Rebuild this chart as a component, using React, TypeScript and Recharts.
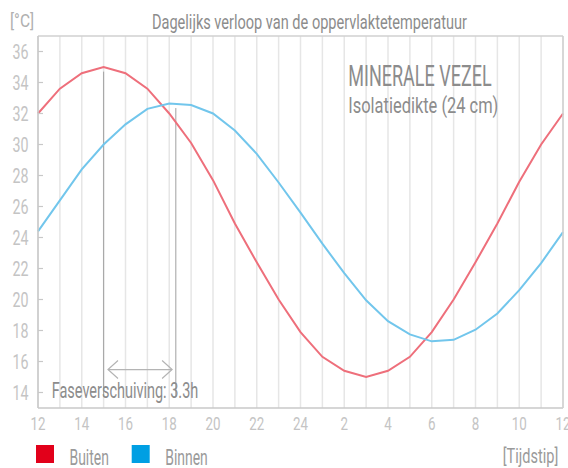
import React from 'react';
import { LineChart, Line, XAxis, YAxis, CartesianGrid, ReferenceLine, Legend } from 'recharts';

if (typeof document !== 'undefined') {
  document.body.style.margin = '0';
}

// ---- data ----
const hours = [0, 1, 2, 3, 4, 5, 6, 7, 8, 9, 10, 11, 12, 13, 14, 15, 16, 17, 18, 19, 20, 21, 22, 23, 24];
const buiten = [32, 33.6, 34.6, 35, 34.6, 33.6, 32, 30.1, 27.7, 24.9, 22.4, 20, 17.9, 16.3, 15.4, 15, 15.4, 16.3, 17.9, 20, 22.4, 24.9, 27.6, 30, 32];
const binnen = [24.4, 26.4, 28.4, 30.0, 31.3, 32.3, 32.65, 32.55, 32.0, 30.9, 29.4, 27.55, 25.6, 23.6, 21.7, 19.95, 18.6, 17.75, 17.3, 17.4, 18.05, 19.1, 20.6, 22.35, 24.35];
const xTickLabels = ['12', '14', '16', '18', '20', '22', '24', '2', '4', '6', '8', '10', '12'];
const yTicks = [14, 16, 18, 20, 22, 24, 26, 28, 30, 32, 34, 36];
const yDomain = [13, 37];
const seriesNames = ['Buiten', 'Binnen'];
const lineColors = ['#ee6f7b', '#72c6ec'];
const legendColors = ['#e2001a', '#009fe3'];
const phaseStart = 3;
const phaseEnd = 6.3;
const phaseLabel = 'Faseverschuiving: 3.3h';

const data = hours.map((h, i) => ({ hour: h, buiten: buiten[i], binnen: binnen[i] }));

const FONT = "Roboto, 'DejaVu Sans', sans-serif";
const TICK_FILL = '#c4c4c4';
const TEXT_FILL = '#8c8c8c';
const AXIS = '#c8c8c8';

const T = ({ x, y, w, size, fill, anchor = 'start', children }: any) => (
  <text
    x={x}
    y={y}
    fontSize={size}
    fill={fill}
    textLength={w}
    lengthAdjust="spacingAndGlyphs"
    textAnchor={anchor}
    fontFamily={FONT}
  >
    {children}
  </text>
);

const YTick = (p: any) => {
  const edge = p.x + 10;
  const y = p.y;
  const label = String(p.payload.value);
  return (
    <g>
      <line x1={edge} x2={edge + 5} y1={y} y2={y} stroke={AXIS} strokeWidth={1.2} />
      <T x={edge - 9.5} y={y + 7} w={label.length * 8} size={19.5} fill={TICK_FILL} anchor="end">
        {label}
      </T>
    </g>
  );
};

const XTick = (p: any) => {
  const v = p.payload.value;
  if (v % 2 !== 0) return <g />;
  const label = xTickLabels[v / 2];
  return (
    <T x={p.x} y={p.y + 12} w={label.length * 7.5} size={19} fill={TICK_FILL} anchor="middle">
      {label}
    </T>
  );
};

const ArrowShape = (p: any) => {
  const { x1, y1, x2, y2 } = p;
  return (
    <g stroke="#b4b4b4" strokeWidth={1.2} fill="none">
      <line x1={x1} y1={y1} x2={x2} y2={y2} />
      <polyline points={`${x1 + 10},${y1 - 9} ${x1},${y1} ${x1 + 10},${y1 + 9}`} />
      <polyline points={`${x2 - 10},${y2 - 9} ${x2},${y2} ${x2 - 10},${y2 + 9}`} />
    </g>
  );
};

const LegendContent = () => {
  const xs = [36, 131.7];
  const tw = [39.4, 42.6];
  return (
    <svg width={300} height={28} style={{ display: 'block', overflow: 'visible' }}>
      {seriesNames.map((name, i) => (
        <g key={name}>
          <rect x={xs[i]} y={5} width={18} height={18} fill={legendColors[i]} />
          <T x={xs[i] + 33.5} y={24.5} w={tw[i]} size={22} fill="#9a9a9a">
            {name}
          </T>
        </g>
      ))}
    </svg>
  );
};

export default function App() {
  return (
    <div style={{ position: 'relative', width: 568, height: 468, background: '#fff' }}>
      <LineChart width={568} height={468} data={data} margin={{ top: 36, right: 5, bottom: 30, left: 0 }}>
        <CartesianGrid horizontal={false} stroke="#e6e6e6" strokeWidth={1.5} />
        <XAxis
          dataKey="hour"
          type="number"
          domain={[0, 24]}
          ticks={hours}
          interval={0}
          height={30}
          tickLine={false}
          tickSize={6}
          tickMargin={4}
          axisLine={{ stroke: AXIS, strokeWidth: 1.5 }}
          tick={<XTick />}
        />
        <YAxis
          type="number"
          domain={yDomain}
          ticks={yTicks}
          interval={0}
          width={38}
          tickLine={false}
          tickSize={6}
          tickMargin={4}
          axisLine={{ stroke: AXIS, strokeWidth: 1.5 }}
          tick={<YTick />}
        />
        <YAxis
          yAxisId="right"
          orientation="right"
          type="number"
          domain={yDomain}
          ticks={yTicks}
          interval={0}
          width={1}
          mirror
          tick={false}
          tickSize={5}
          tickLine={{ stroke: AXIS, strokeWidth: 1.2 }}
          axisLine={{ stroke: '#d0d0d0', strokeWidth: 1.5 }}
        />
        <ReferenceLine y={yDomain[1]} stroke="#d0d0d0" strokeWidth={1.5} />
        <ReferenceLine
          segment={[{ x: phaseStart, y: 34.7 }, { x: phaseStart, y: 13.7 }]}
          stroke="#a0a0a0"
          strokeWidth={1}
        />
        <ReferenceLine
          segment={[{ x: phaseEnd, y: 32.35 }, { x: phaseEnd, y: 13.7 }]}
          stroke="#a0a0a0"
          strokeWidth={1}
        />
        <ReferenceLine
          segment={[{ x: 3.2, y: 15.48 }, { x: 6.13, y: 15.48 }]}
          shape={<ArrowShape />}
        />
        <Line
          dataKey="buiten"
          name={seriesNames[0]}
          stroke={lineColors[0]}
          strokeWidth={2}
          dot={false}
          activeDot={false}
          isAnimationActive={false}
        />
        <Line
          dataKey="binnen"
          name={seriesNames[1]}
          stroke={lineColors[1]}
          strokeWidth={2}
          dot={false}
          activeDot={false}
          isAnimationActive={false}
        />
        <Legend
          layout="vertical"
          verticalAlign="middle"
          align="center"
          wrapperStyle={{ left: 0, top: 440, width: 300, height: 28 }}
          content={<LegendContent />}
        />
      </LineChart>
      <svg width={568} height={468} style={{ position: 'absolute', left: 0, top: 0, pointerEvents: 'none' }}>
        <T x={10} y={26.5} w={24} size={18} fill="#b0b0b0">[°C]</T>
        <T x={152} y={29.3} w={315} size={20} fill={TEXT_FILL}>Dagelijks verloop van de oppervlaktetemperatuur</T>
        <T x={348.3} y={86} w={143.4} size={29.5} fill={TEXT_FILL}>MINERALE VEZEL</T>
        <T x={348.3} y={113.3} w={150} size={22.5} fill={TEXT_FILL}>Isolatiedikte (24 cm)</T>
        <T x={51.7} y={398.3} w={146.6} size={22.5} fill={TEXT_FILL}>{phaseLabel}</T>
        <T x={502.7} y={463} w={55.6} size={21} fill="#9a9a9a">[Tijdstip]</T>
      </svg>
    </div>
  );
}
